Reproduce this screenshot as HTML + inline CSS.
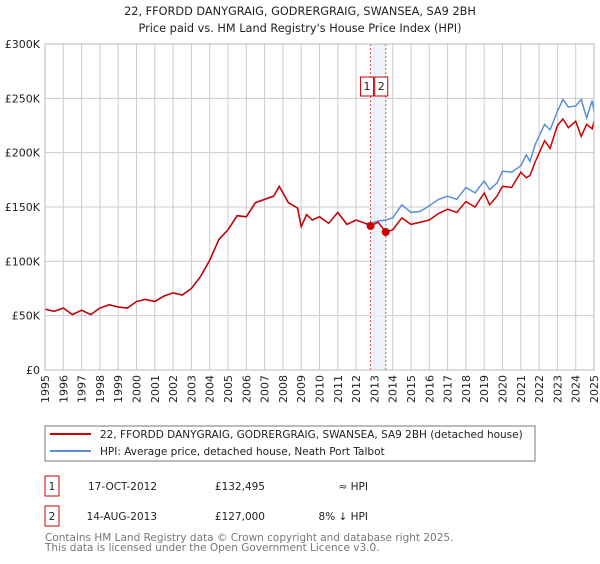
<!DOCTYPE html>
<html><head><meta charset="utf-8"><style>
body{margin:0;background:#fff;font-family:"DejaVu Sans","Liberation Sans",sans-serif;}
svg text{font-family:"DejaVu Sans","Liberation Sans",sans-serif;}
</style></head><body>
<svg id="c" width="600" height="560" xmlns="http://www.w3.org/2000/svg">
<text x="300" y="15" text-anchor="middle" font-size="11.3" fill="#222">22, FFORDD DANYGRAIG, GODRERGRAIG, SWANSEA, SA9 2BH</text>
<text x="300" y="32" text-anchor="middle" font-size="11.3" fill="#222">Price paid vs. HM Land Registry's House Price Index (HPI)</text>
<g id="grid"></g><g id="marks"></g><g id="axes"></g>
<g>
<rect x="45" y="426" width="490" height="35" fill="#fff" stroke="#777"/>
<line x1="50" y1="434" x2="91" y2="434" stroke="#cc0000" stroke-width="2"/>
<text x="100" y="438" font-size="10.5" fill="#222">22, FFORDD DANYGRAIG, GODRERGRAIG, SWANSEA, SA9 2BH (detached house)</text>
<line x1="50" y1="451" x2="91" y2="451" stroke="#5b8fd4" stroke-width="2"/>
<text x="100" y="455" font-size="10.5" fill="#222">HPI: Average price, detached house, Neath Port Talbot</text>
</g>
<g font-size="10.5" fill="#222">
<rect x="45" y="476" width="14" height="20" fill="#fff" stroke="#cc0000"/>
<text x="52" y="490" text-anchor="middle">1</text>
<text x="157" y="490" text-anchor="end">17-OCT-2012</text>
<text x="265" y="490" text-anchor="end">£132,495</text>
<text x="368" y="490" text-anchor="end">≈ HPI</text>
<rect x="45" y="506" width="14" height="20" fill="#fff" stroke="#cc0000"/>
<text x="52" y="520" text-anchor="middle">2</text>
<text x="157" y="520" text-anchor="end">14-AUG-2013</text>
<text x="265" y="520" text-anchor="end">£127,000</text>
<text x="368" y="520" text-anchor="end">8% ↓ HPI</text>
</g>
<text x="45" y="541" font-size="10.5" fill="#777">Contains HM Land Registry data © Crown copyright and database right 2025.</text>
<text x="45" y="551" font-size="10.5" fill="#777">This data is licensed under the Open Government Licence v3.0.</text>
</svg>
<script>
const yTicks=[0,50,100,150,200,250,300];
const yTickLabels=["£0","£50K","£100K","£150K","£200K","£250K","£300K"];
const years=[1995,1996,1997,1998,1999,2000,2001,2002,2003,2004,2005,2006,2007,2008,2009,2010,2011,2012,2013,2014,2015,2016,2017,2018,2019,2020,2021,2022,2023,2024,2025];
const hpiT=[1995,1995.5,1996,1996.5,1997,1997.5,1998,1998.5,1999,1999.5,2000,2000.5,2001,2001.5,2002,2002.5,2003,2003.5,2004,2004.5,2005,2005.5,2006,2006.5,2007,2007.5,2007.8,2008.3,2008.8,2009,2009.3,2009.6,2010,2010.5,2011,2011.5,2012,2012.5,2012.8,2013.2,2013.6,2014,2014.5,2015,2015.5,2016,2016.5,2017,2017.5,2018,2018.5,2019,2019.3,2019.7,2020,2020.5,2021,2021.3,2021.5,2021.8,2022.3,2022.6,2023,2023.3,2023.6,2024,2024.3,2024.6,2024.9,2025];
const hpiV=[56,54,57,51,55,51,57,60,58,57,63,65,63,68,71,69,75,86,101,120,129,142,141,154,157,160,169,154,149,132,143,138,141,135,145,134,138,135,135,137,138,140,152,145,146,151,157,160,157,168,163,174,166,172,183,182,188,198,192,208,226,221,238,249,242,243,249,232,248,238];
const propT=[1995,1995.5,1996,1996.5,1997,1997.5,1998,1998.5,1999,1999.5,2000,2000.5,2001,2001.5,2002,2002.5,2003,2003.5,2004,2004.5,2005,2005.5,2006,2006.5,2007,2007.5,2007.8,2008.3,2008.8,2009,2009.3,2009.6,2010,2010.5,2011,2011.5,2012,2012.5,2012.8,2013.2,2013.62,2014,2014.5,2015,2015.5,2016,2016.5,2017,2017.5,2018,2018.5,2019,2019.3,2019.7,2020,2020.5,2021,2021.3,2021.5,2021.8,2022.3,2022.6,2023,2023.3,2023.6,2024,2024.3,2024.6,2024.9,2025];
const propV=[56,54,57,51,55,51,57,60,58,57,63,65,63,68,71,69,75,86,101,120,129,142,141,154,157,160,169,154,149,132,143,138,141,135,145,134,138,135,132.5,136,127,129,140,134,136,138,144,148,145,155,150,163,152,160,169,168,182,177,179,192,211,204,225,231,223,229,215,226,222,229];
const saleT=[2012.79,2013.62];
const saleV=[132.495,127];
const saleLabels=["1","2"];
const X0=45,X1=594,Y0=370,Y1=44;
const xs=t=>X0+(t-1995)/30*(X1-X0);
const ys=v=>Y0-v/300*(Y0-Y1);
const NS="http://www.w3.org/2000/svg";
function mk(tag,attrs,parent,txt){const e=document.createElementNS(NS,tag);for(const k in attrs)e.setAttribute(k,attrs[k]);if(txt!==undefined)e.textContent=txt;parent.appendChild(e);return e;}
const grid=document.getElementById('grid'),marks=document.getElementById('marks'),axes=document.getElementById('axes');
years.forEach(y=>{const l=mk('line',{x1:xs(y),x2:xs(y),y1:Y1,y2:Y0,stroke:'#ccc','stroke-width':1},grid);


const t=mk('text',{x:0,y:0,'font-size':11,fill:'#222','text-anchor':'end',transform:`translate(${xs(y)+4},${Y0+5}) rotate(-90)`},axes,String(y));

});
yTicks.forEach((v,i)=>{const l=mk('line',{x1:X0,x2:X1,y1:ys(v),y2:ys(v),stroke:'#ccc','stroke-width':1},grid);


const t=mk('text',{x:X0-5,y:ys(v)+4,'font-size':11,fill:'#222','text-anchor':'end'},axes,yTickLabels[i]);

});
const band=mk('rect',{x:xs(saleT[0]),y:Y1,width:xs(saleT[1])-xs(saleT[0]),height:Y0-Y1,fill:'#e8f0fc',opacity:0.7},grid);


saleT.forEach((t,i)=>{const l=mk('line',{x1:xs(t),x2:xs(t),y1:Y1,y2:Y0,stroke:'#e05050','stroke-dasharray':'2,2','stroke-width':1},grid);


const bx=xs(t)-(i==0?10:11);
const r=mk('rect',{x:bx,y:77,width:13,height:19,fill:'#fff',stroke:'#cc0000'},axes);


const tx=mk('text',{x:bx+6.5,y:90,'font-size':11,'text-anchor':'middle',fill:'#222'},axes,saleLabels[i]);

});
const b=mk('rect',{x:X0,y:Y1,width:X1-X0,height:Y0-Y1,fill:'none',stroke:'#bbb'},axes);


const hp=mk('polyline',{points:hpiT.map((t,i)=>xs(t)+','+ys(hpiV[i])).join(' '),fill:'none',stroke:'#5b8fd4','stroke-width':1.5},marks);


const pp=mk('polyline',{points:propT.map((t,i)=>xs(t)+','+ys(propV[i])).join(' '),fill:'none',stroke:'#cc0000','stroke-width':1.5},marks);


saleT.forEach((t,i)=>{const c=mk('circle',{cx:xs(t),cy:ys(saleV[i]),r:4,fill:'#cc0000'},marks);

});
</script>
</body></html>
